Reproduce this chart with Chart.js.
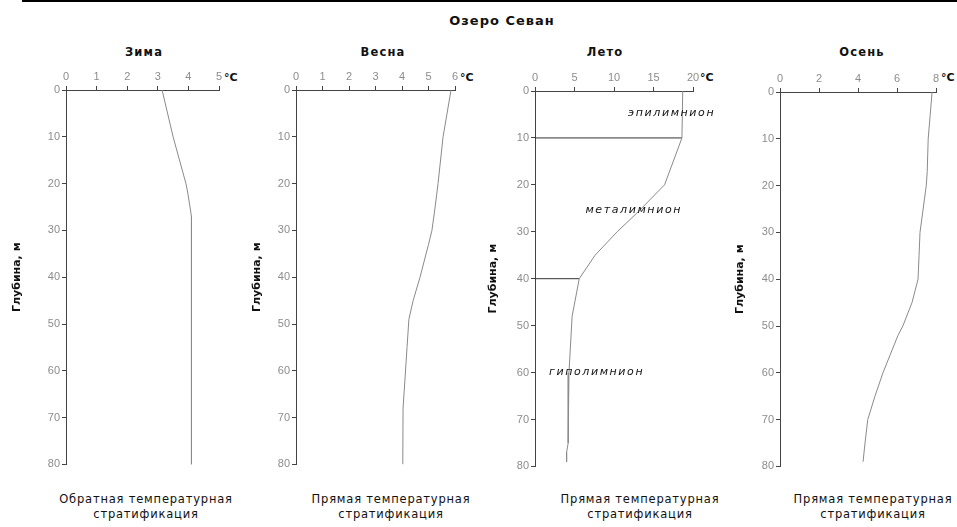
<!DOCTYPE html>
<html>
<head>
<meta charset="utf-8">
<script src="https://cdn.jsdelivr.net/npm/chart.js@4/dist/chart.umd.min.js"></script>
<style>
  body { margin: 0; background: #fff; width: 957px; height: 527px; overflow: hidden; position: relative; font-family: "DejaVu Sans", sans-serif; }
  .topline { position: absolute; left: 22px; right: 0; top: 0; height: 2px; background: #000; }
  .txt { position: absolute; white-space: nowrap; transform: translate(-50%, -50%); color: #111; }
  .title { font-weight: bold; font-size: 13px; letter-spacing: 1px; }
  .ptitle { font-weight: bold; font-size: 11.5px; letter-spacing: 1.2px; }
  .deg { font-weight: bold; font-size: 11px; transform: translate(0, -50%); }
  .cap { font-size: 11.5px; letter-spacing: 0.8px; text-align: center; line-height: 15px; }
  .wrap { position: absolute; }
</style>
</head>
<body>
<div class="topline"></div>
<div class="txt title" style="left:502px; top:20px;">Озеро Севан</div>

<div class="txt ptitle" style="left:144px; top:52px;">Зима</div>
<div class="txt ptitle" style="left:383px; top:52px;">Весна</div>
<div class="txt ptitle" style="left:605px; top:52px;">Лето</div>
<div class="txt ptitle" style="left:862px; top:52px;">Осень</div>

<div class="txt deg" style="left:224px; top:77px;">°C</div>
<div class="txt deg" style="left:460px; top:77px;">°C</div>
<div class="txt deg" style="left:700px; top:77px;">°C</div>
<div class="txt deg" style="left:941px; top:77px;">°C</div>

<div class="txt cap" style="left:146px; top:507px;">Обратная температурная<br>стратификация</div>
<div class="txt cap" style="left:391px; top:507px;">Прямая температурная<br>стратификация</div>
<div class="txt cap" style="left:640px; top:507px;">Прямая температурная<br>стратификация</div>
<div class="txt cap" style="left:873px; top:507px;">Прямая температурная<br>стратификация</div>

<div class="wrap" id="w1"><canvas id="c1"></canvas></div>
<div class="wrap" id="w2"><canvas id="c2"></canvas></div>
<div class="wrap" id="w3"><canvas id="c3"></canvas></div>
<div class="wrap" id="w4"><canvas id="c4"></canvas></div>

<script>
// глубина, м и температура, °C
const depthTicks = [0, 10, 20, 30, 40, 50, 60, 70, 80]

const zimaDepth = [0, 10, 20, 22, 27, 80]
const zimaTemp = [3.14, 3.5, 3.92, 3.98, 4.1, 4.1]

const vesnaDepth = [0, 10, 20, 25, 30, 33, 40, 45, 49, 55, 62, 68, 80]
const vesnaTemp = [5.85, 5.55, 5.36, 5.25, 5.13, 5.0, 4.68, 4.42, 4.26, 4.19, 4.11, 4.04, 4.03]

const letoDepth = [0, 10, 20, 26, 30, 35, 40, 48, 60, 62, 75, 77, 79]
const letoTemp = [18.7, 18.6, 16.4, 12.9, 10.4, 7.6, 5.6, 4.7, 4.3, 4.2, 4.2, 4.0, 4.0]
// границы слоёв (глубина и температура на границе)
const letoBoundDepth = [10, 40]
const letoBoundTemp = [18.6, 5.6]
const letoLayerNames = ['эпилимнион', 'металимнион', 'гиполимнион']
const letoLayerTemp = [17.3, 12.5, 7.8]
const letoLayerDepth = [4.7, 25.3, 60]

const osenDepth = [0, 5, 10, 17, 20, 30, 35, 40, 45, 50, 52, 60, 65, 70, 75, 79]
const osenTemp = [7.8, 7.7, 7.6, 7.55, 7.5, 7.18, 7.13, 7.08, 6.77, 6.3, 6.05, 5.28, 4.87, 4.5, 4.36, 4.26]

const tickFont = { family: 'Liberation Sans, Arial, sans-serif', size: 11 }
const axisColor = '#444'
const curveColor = '#8a8a8a'

function pts(xs, ys) {
    return xs.map((x, i) => ({ x, y: ys[i] }))
}

// подписи слоёв для лета
const layerLabels = {
    id: 'layerLabels',
    afterDatasetsDraw(chart, args, opts) {
        if (!opts.names) return
        const { ctx, scales } = chart
        ctx.save()
        ctx.font = 'italic 11px "DejaVu Sans", sans-serif'
        ctx.letterSpacing = '1.6px'
        ctx.fillStyle = '#111'
        ctx.textAlign = 'center'
        ctx.textBaseline = 'middle'
        opts.names.forEach((n, i) => {
            ctx.fillText(n, scales.x.getPixelForValue(opts.temps[i]), scales.y.getPixelForValue(opts.depths[i]))
        })
        ctx.restore()
    }
}

function makePanel(id, wrapId, cfg) {
    // cfg.left/right/top/bottom — границы области графика на странице
    const yW = 60, xH = 30, padR = 30, padB = 8
    const w = cfg.right - cfg.left + yW + padR
    const h = cfg.bottom - cfg.top + xH + padB
    const wrap = document.getElementById(wrapId)
    wrap.style.left = (cfg.left - yW) + 'px'
    wrap.style.top = (cfg.top - xH) + 'px'
    const canvas = document.getElementById(id)
    canvas.width = w
    canvas.height = h

    const datasets = [{
        data: pts(cfg.temp, cfg.depth),
        showLine: true,
        borderColor: curveColor,
        borderWidth: 1,
        pointRadius: 0,
        tension: 0
    }]
    if (cfg.bounds) {
        cfg.bounds.depth.forEach((d, i) => {
            datasets.push({
                data: [{ x: 0, y: d }, { x: cfg.bounds.temp[i], y: d }],
                showLine: true,
                borderColor: '#333',
                borderWidth: 1,
                pointRadius: 0
            })
        })
    }

    return new Chart(canvas, {
        type: 'scatter',
        data: { datasets },
        options: {
            responsive: false,
            animation: false,
            devicePixelRatio: 1,
            layout: { padding: { left: 0, right: padR, top: 0, bottom: padB } },
            plugins: {
                legend: { display: false },
                tooltip: { enabled: false },
                layerLabels: cfg.labels || {}
            },
            scales: {
                x: {
                    type: 'linear',
                    position: 'top',
                    min: 0,
                    max: cfg.max,
                    ticks: { stepSize: cfg.step, font: tickFont, color: '#8c8c8c', padding: 2 },
                    grid: { drawOnChartArea: false, drawTicks: true, tickLength: 4, color: axisColor },
                    border: { display: true, color: axisColor },
                    afterFit(s) { s.height = xH }
                },
                y: {
                    type: 'linear',
                    reverse: true,
                    min: 0,
                    max: 80,
                    afterBuildTicks(s) { s.ticks = depthTicks.map(v => ({ value: v })) },
                    ticks: { font: tickFont, color: '#8c8c8c', padding: 2 },
                    grid: { drawOnChartArea: false, drawTicks: true, tickLength: 4, color: axisColor },
                    border: { display: true, color: axisColor },
                    title: {
                        display: true,
                        text: 'Глубина, м',
                        color: '#111',
                        font: { family: 'DejaVu Sans, sans-serif', size: 11, weight: 'bold' },
                        padding: { top: cfg.titlePad, bottom: 0 }
                    },
                    afterFit(s) { s.width = yW }
                }
            }
        },
        plugins: [layerLabels]
    })
}

makePanel('c1', 'w1', { left: 66, right: 219, top: 90, bottom: 465, max: 5, step: 1, temp: zimaTemp, depth: zimaDepth, titlePad: 5 })
makePanel('c2', 'w2', { left: 296, right: 455, top: 90, bottom: 465, max: 6, step: 1, temp: vesnaTemp, depth: vesnaDepth, titlePad: 15 })
makePanel('c3', 'w3', {
    left: 535, right: 693, top: 91, bottom: 467, max: 20, step: 5, temp: letoTemp, depth: letoDepth, titlePad: 12,
    bounds: { depth: letoBoundDepth, temp: letoBoundTemp },
    labels: { names: letoLayerNames, temps: letoLayerTemp, depths: letoLayerDepth }
})
makePanel('c4', 'w4', { left: 780, right: 936, top: 92, bottom: 467, max: 8, step: 2, temp: osenTemp, depth: osenDepth, titlePad: 14 })
</script>
</body>
</html>
